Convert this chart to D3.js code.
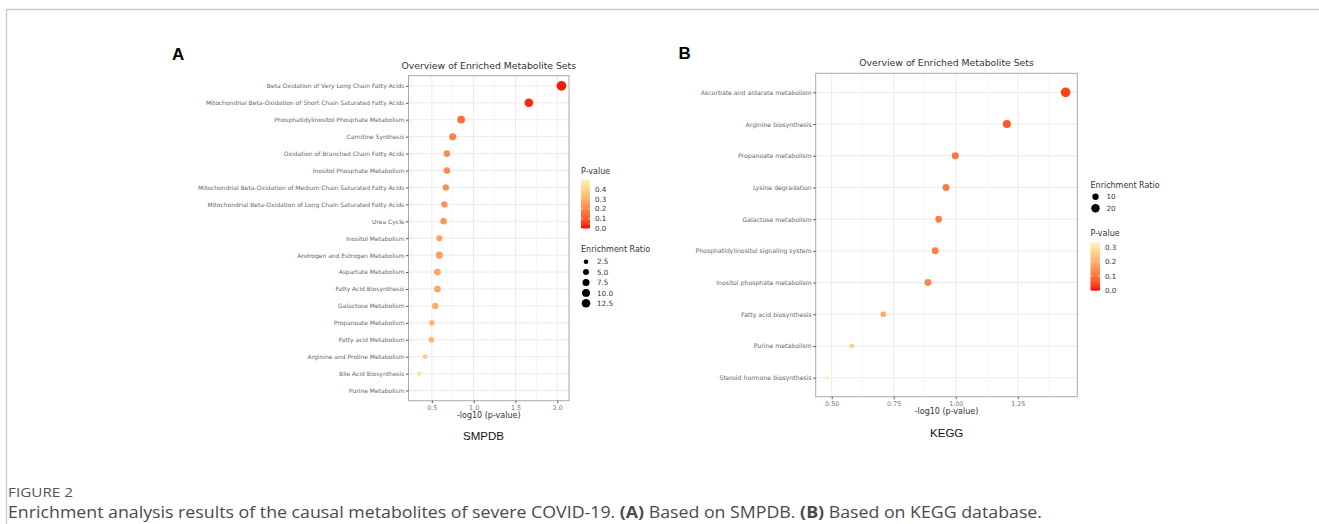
<!DOCTYPE html>
<html><head><meta charset="utf-8">
<script src="https://cdn.jsdelivr.net/npm/d3@7"></script>
<style>
body{margin:0;background:#fff;}
svg{display:block;}
</style></head>
<body>
<svg id="chart" width="1319" height="524"></svg>
<script>
// ---------- DATA ----------
const smpdbNames = [
  "Beta Oxidation of Very Long Chain Fatty Acids",
  "Mitochondrial Beta-Oxidation of Short Chain Saturated Fatty Acids",
  "Phosphatidylinositol Phosphate Metabolism",
  "Carnitine Synthesis",
  "Oxidation of Branched Chain Fatty Acids",
  "Inositol Phosphate Metabolism",
  "Mitochondrial Beta-Oxidation of Medium Chain Saturated Fatty Acids",
  "Mitochondrial Beta-Oxidation of Long Chain Saturated Fatty Acids",
  "Urea Cycle",
  "Inositol Metabolism",
  "Androgen and Estrogen Metabolism",
  "Aspartate Metabolism",
  "Fatty Acid Biosynthesis",
  "Galactose Metabolism",
  "Propanoate Metabolism",
  "Fatty acid Metabolism",
  "Arginine and Proline Metabolism",
  "Bile Acid Biosynthesis",
  "Purine Metabolism"
];
const smpdbLogP = [2.05, 1.66, 0.85, 0.75, 0.68, 0.68, 0.667, 0.65, 0.64, 0.59, 0.59, 0.567, 0.567, 0.54, 0.50, 0.495, 0.42, 0.35, 0.30];
const smpdbRatio = [16.6, 12.8, 9.5, 7.5, 6.7, 6.7, 5.9, 5.9, 5.9, 5.0, 7.5, 6.7, 6.7, 5.9, 4.3, 4.3, 3.0, 2.5, 1.5];
const smpdbXTicks = [0.5, 1.0, 1.5, 2.0];
const smpdbXTickLabels = ["0.5", "1.0", "1.5", "2.0"];
const smpdbPTicks = [0.0, 0.1, 0.2, 0.3, 0.4];
const smpdbPTickLabels = ["0.0", "0.1", "0.2", "0.3", "0.4"];
const smpdbSizeTicks = [2.5, 5.0, 7.5, 10.0, 12.5];
const smpdbSizeTickLabels = ["2.5", "5.0", "7.5", "10.0", "12.5"];

const keggNames = [
  "Ascorbate and aldarate metabolism",
  "Arginine biosynthesis",
  "Propanoate metabolism",
  "Lysine degradation",
  "Galactose metabolism",
  "Phosphatidylinositol signaling system",
  "Inositol phosphate metabolism",
  "Fatty acid biosynthesis",
  "Purine metabolism",
  "Steroid hormone biosynthesis"
];
const keggLogP = [1.443, 1.206, 0.998, 0.961, 0.931, 0.917, 0.888, 0.708, 0.581, 0.482];
const keggRatio = [28, 17.7, 12.6, 12.6, 11.3, 12.6, 12.6, 7.3, 5.0, 2.5];
const keggXTicks = [0.5, 0.75, 1.0, 1.25];
const keggXTickLabels = ["0.50", "0.75", "1.00", "1.25"];
const keggPTicks = [0.0, 0.1, 0.2, 0.3];
const keggPTickLabels = ["0.0", "0.1", "0.2", "0.3"];
const keggSizeTicks = [10, 20];
const keggSizeTickLabels = ["10", "20"];

// ---------- DRAW ----------
const svg = d3.select("#chart");
const FONT = "DejaVu Sans, sans-serif";

// outer frame
svg.append("path").attr("d", "M6.5,524 V9.5 H1319").attr("fill", "none").attr("stroke", "#c8c8c8").attr("stroke-width", 1.3);

function drawPanel(cfg) {
  const g = svg.append("g");
  const x = d3.scaleLinear().domain(cfg.xDomain).range([cfg.left, cfg.right]);
  const y = d3.scalePoint().domain(cfg.names).range([cfg.top, cfg.bottom]).padding(0.6);
  const pvals = cfg.logP.map(v => Math.pow(10, -v));
  const color = d3.scaleLinear().domain([0, cfg.pMax]).range(["#ff0000", "#fff6b4"]).interpolate(d3.interpolateLab).clamp(true);
  const size = d3.scaleSqrt().domain([0, cfg.sizeMax]).range([cfg.r0, cfg.r1]);

  // grid
  const minor = [];
  for (let i = 0; i < cfg.xTicks.length + 1; i++) {
    const step = cfg.xTicks[1] - cfg.xTicks[0];
    const m = cfg.xTicks[0] - step / 2 + i * step;
    if (m > cfg.xDomain[0] && m < cfg.xDomain[1]) minor.push(m);
  }
  g.selectAll(".minor").data(minor).join("line")
    .attr("x1", d => x(d)).attr("x2", d => x(d)).attr("y1", cfg.top).attr("y2", cfg.bottom)
    .attr("stroke", "#f2f2f2").attr("stroke-width", 0.6);
  g.selectAll(".major").data(cfg.xTicks).join("line")
    .attr("x1", d => x(d)).attr("x2", d => x(d)).attr("y1", cfg.top).attr("y2", cfg.bottom)
    .attr("stroke", "#ebebeb").attr("stroke-width", 1);
  g.selectAll(".hgrid").data(cfg.names).join("line")
    .attr("x1", cfg.left).attr("x2", cfg.right).attr("y1", d => y(d)).attr("y2", d => y(d))
    .attr("stroke", "#ebebeb").attr("stroke-width", 1);

  // points
  g.selectAll(".pt").data(cfg.names).join("circle")
    .attr("cx", (d, i) => x(cfg.logP[i]))
    .attr("cy", d => y(d))
    .attr("r", (d, i) => size(cfg.ratio[i]))
    .attr("fill", (d, i) => color(pvals[i]));

  // border
  g.append("rect").attr("x", cfg.left).attr("y", cfg.top)
    .attr("width", cfg.right - cfg.left).attr("height", cfg.bottom - cfg.top)
    .attr("fill", "none").attr("stroke", "#a9a9a9").attr("stroke-width", 1);

  // axes
  const xa = g.append("g").attr("transform", `translate(0,${cfg.bottom})`)
    .call(d3.axisBottom(x).tickValues(cfg.xTicks).tickFormat((d, i) => cfg.xTickLabels[i]).tickSize(2.5).tickPadding(2));
  xa.select(".domain").remove();
  xa.selectAll("line").attr("stroke", "#555");
  xa.selectAll("text").attr("fill", "#777").style("font-family", FONT).style("font-size", "6.4px");

  const ya = g.append("g").attr("transform", `translate(${cfg.left},0)`)
    .call(d3.axisLeft(y).tickSize(2.5).tickPadding(1.5));
  ya.select(".domain").remove();
  ya.selectAll("line").attr("stroke", "#555");
  ya.selectAll("text").attr("fill", "#666").style("font-family", FONT).style("font-size", cfg.yFont + "px");

  // titles
  const cx = (cfg.left + cfg.right) / 2;
  g.append("text").attr("x", cx).attr("y", cfg.top - 7).attr("text-anchor", "middle")
    .style("font-family", FONT).style("font-size", "9.3px").attr("fill", "#333")
    .text("Overview of Enriched Metabolite Sets");
  g.append("text").attr("x", cx).attr("y", cfg.bottom + 17.5).attr("text-anchor", "middle")
    .style("font-family", FONT).style("font-size", "8px").attr("fill", "#333")
    .text("-log10 (p-value)");
  g.append("text").attr("x", cfg.dbX).attr("y", cfg.dbY).attr("text-anchor", "middle")
    .style("font-family", "Liberation Sans, Arial, sans-serif").style("font-size", "11.5px").attr("fill", "#111")
    .text(cfg.dbName);
  g.append("text").attr("x", cfg.letterX).attr("y", cfg.letterY)
    .style("font-family", "Liberation Sans, Arial, sans-serif").style("font-size", "17px").style("font-weight", "bold").attr("fill", "#000")
    .text(cfg.letter);

  // colour legend
  const cl = cfg.colorLegend;
  g.append("text").attr("x", cl.x).attr("y", cl.titleY)
    .style("font-family", FONT).style("font-size", "8px").attr("fill", "#333").text("P-value");
  const gradId = "grad" + cfg.letter;
  const grad = svg.append("defs").append("linearGradient").attr("id", gradId)
    .attr("x1", 0).attr("x2", 0).attr("y1", 1).attr("y2", 0);
  d3.range(0, 1.0001, 0.1).forEach(t => {
    grad.append("stop").attr("offset", t).attr("stop-color", color(t * cfg.pMax));
  });
  const ly = d3.scaleLinear().domain([0, cfg.pMax]).range([cl.bottom, cl.top]);
  g.append("rect").attr("x", cl.x).attr("y", cl.top).attr("width", cl.w).attr("height", cl.bottom - cl.top)
    .attr("fill", `url(#${gradId})`);
  g.selectAll(".cltick").data(cfg.pTicks).join("g").each(function (d, i) {
    const s = d3.select(this);
    s.append("line").attr("x1", cl.x).attr("x2", cl.x + 2).attr("y1", ly(d)).attr("y2", ly(d)).attr("stroke", "#fff").attr("stroke-width", 0.5);
    s.append("line").attr("x1", cl.x + cl.w - 2).attr("x2", cl.x + cl.w).attr("y1", ly(d)).attr("y2", ly(d)).attr("stroke", "#fff").attr("stroke-width", 0.5);
    s.append("text").attr("x", cl.x + cl.w + 5).attr("y", ly(d) + 2.6)
      .style("font-family", FONT).style("font-size", "7.2px").attr("fill", "#333").text(cfg.pTickLabels[i]);
  });

  // size legend
  const sl = cfg.sizeLegend;
  g.append("text").attr("x", sl.x).attr("y", sl.titleY)
    .style("font-family", FONT).style("font-size", "8px").attr("fill", "#333").text("Enrichment Ratio");
  g.selectAll(".sltick").data(cfg.sizeTicks).join("g").each(function (d, i) {
    const s = d3.select(this);
    const yy = sl.y0 + i * sl.step;
    s.append("circle").attr("cx", sl.x + 5).attr("cy", yy).attr("r", size(d)).attr("fill", "#000");
    s.append("text").attr("x", sl.x + 16).attr("y", yy + 2.6)
      .style("font-family", FONT).style("font-size", "7.2px").attr("fill", "#333").text(cfg.sizeTickLabels[i]);
  });
}

drawPanel({
  letter: "A", letterX: 172, letterY: 59.5,
  names: smpdbNames, logP: smpdbLogP, ratio: smpdbRatio,
  xTicks: smpdbXTicks, xTickLabels: smpdbXTickLabels,
  pTicks: smpdbPTicks, pTickLabels: smpdbPTickLabels,
  sizeTicks: smpdbSizeTicks, sizeTickLabels: smpdbSizeTickLabels,
  left: 408.5, right: 569, top: 75.7, bottom: 400.7,
  xDomain: [0.221, 2.14], pMax: 0.5, sizeMax: 16, r0: 0.7, r1: 4.8, yFont: 6,
  dbName: "SMPDB", dbX: 483.5, dbY: 440,
  colorLegend: { x: 581, titleY: 174, top: 179.3, bottom: 228.5, w: 9 },
  sizeLegend: { x: 581, titleY: 252, y0: 261.7, step: 10.4 }
});

drawPanel({
  letter: "B", letterX: 678.5, letterY: 58.8,
  names: keggNames, logP: keggLogP, ratio: keggRatio,
  xTicks: keggXTicks, xTickLabels: keggXTickLabels,
  pTicks: keggPTicks, pTickLabels: keggPTickLabels,
  sizeTicks: keggSizeTicks, sizeTickLabels: keggSizeTickLabels,
  left: 815.7, right: 1077.3, top: 73.3, bottom: 396.7,
  xDomain: [0.4355, 1.49], pMax: 0.332, sizeMax: 28, r0: 0.7, r1: 4.85, yFont: 6.2,
  dbName: "KEGG", dbX: 946.7, dbY: 436.5,
  colorLegend: { x: 1090.5, titleY: 236, top: 242.7, bottom: 290.7, w: 9.5 },
  sizeLegend: { x: 1090.5, titleY: 188, y0: 196.7, step: 11.6 }
});

// caption
svg.append("text").attr("x", 8).attr("y", 497)
  .style("font-family", "Open Sans, sans-serif").style("font-size", "12.5px").attr("fill", "#555")
  .attr("textLength", 65).attr("lengthAdjust", "spacingAndGlyphs")
  .text("FIGURE 2");
const cap = svg.append("text").attr("x", 8).attr("y", 518)
  .style("font-family", "Open Sans, sans-serif").style("font-size", "16px").attr("fill", "#4a4a4a")
  .attr("textLength", 1034).attr("lengthAdjust", "spacingAndGlyphs");
cap.append("tspan").text("Enrichment analysis results of the causal metabolites of severe COVID-19. ");
cap.append("tspan").style("font-weight", "bold").text("(A)");
cap.append("tspan").text(" Based on SMPDB. ");
cap.append("tspan").style("font-weight", "bold").text("(B)");
cap.append("tspan").text(" Based on KEGG database.");
</script>
</body></html>
